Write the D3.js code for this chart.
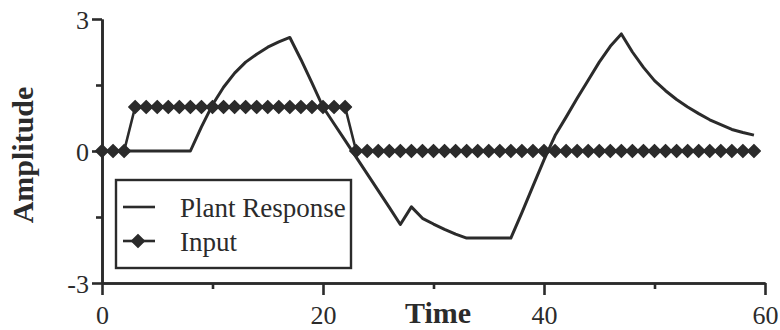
<!DOCTYPE html>
<html>
<head>
<meta charset="utf-8">
<script src="https://cdn.jsdelivr.net/npm/d3@7"></script>
<style>
  html, body { margin: 0; padding: 0; background: #fff; }
  svg { display: block; }
</style>
</head>
<body>
<svg id="chart" width="780" height="330"></svg>
<script>
const time = [0,1,2,3,4,5,6,7,8,9,10,11,12,13,14,15,16,17,18,19,20,21,22,23,24,25,26,27,28,29,
              30,31,32,33,34,35,36,37,38,39,40,41,42,43,44,45,46,47,48,49,50,51,52,53,54,55,56,57,58,59];
const plantResponse = [0,0,0,0,0,0,0,0,0,0.55,1.05,1.45,1.77,2.02,2.2,2.36,2.48,2.58,2.08,1.55,
                       1.0,0.62,0.24,-0.14,-0.52,-0.9,-1.28,-1.67,-1.27,-1.53,-1.66,-1.78,-1.89,-1.98,-1.98,-1.98,-1.98,-1.98,-1.4,-0.8,
                       -0.2,0.35,0.77,1.2,1.61,2.02,2.38,2.66,2.25,1.9,1.6,1.37,1.17,1.0,0.85,0.71,0.6,0.49,0.42,0.36];
const input = [0,0,0,1,1,1,1,1,1,1,1,1,1,1,1,1,1,1,1,1,1,1,1,0,0,0,0,0,0,0,
               0,0,0,0,0,0,0,0,0,0,0,0,0,0,0,0,0,0,0,0,0,0,0,0,0,0,0,0,0,0];
const xMajorTicks = [0,20,40,60];
const xMinorTicks = [10,30,50];
const yMajorTicks = [-3,0,3];
const yMinorTicks = [-1.5,1.5];
const seriesNames = ["Plant Response","Input"];
const xTitle = "Time";
const yTitle = "Amplitude";

const ink = "#2b2b2b";
const serif = "'Liberation Serif', 'Times New Roman', serif";
const svg = d3.select("#chart");

const x = d3.scaleLinear().domain([0,60]).range([102,765]);
const y = d3.scaleLinear().domain([-3,3]).range([283,19]);
const plainFormat = d => String(d);

function styleAxis(g){
  g.select(".domain").attr("stroke", ink).attr("stroke-width", 2.6);
  g.selectAll(".tick line").attr("stroke", ink).attr("stroke-width", 2.6);
  g.selectAll(".tick text").attr("fill", ink).attr("font-family", serif).attr("font-size", 26);
}

// X axis
svg.append("g").attr("transform", `translate(0,${y(-3)})`)
  .call(d3.axisBottom(x).tickValues(xMinorTicks).tickSize(6).tickSizeOuter(0).tickFormat(""))
  .call(styleAxis);
svg.append("g").attr("transform", `translate(0,${y(-3)})`)
  .call(d3.axisBottom(x).tickValues(xMajorTicks).tickSize(12).tickSizeOuter(0).tickPadding(5).tickFormat(plainFormat))
  .call(styleAxis)
  .call(g => g.selectAll(".tick text").attr("dy", "0.92em"));

// Y axis
svg.append("g").attr("transform", `translate(${x(0)},0)`)
  .call(d3.axisLeft(y).tickValues(yMinorTicks).tickSize(6).tickSizeOuter(0).tickFormat(""))
  .call(styleAxis);
svg.append("g").attr("transform", `translate(${x(0)},0)`)
  .call(d3.axisLeft(y).tickValues(yMajorTicks).tickSize(10).tickSizeOuter(0).tickPadding(3).tickFormat(plainFormat))
  .call(styleAxis)
  .call(g => g.selectAll(".tick text").attr("dy", "0.36em"));

// Axis titles
svg.append("text").attr("x", 438).attr("y", 323).attr("text-anchor", "middle")
  .attr("font-family", serif).attr("font-weight", "bold").attr("font-size", 30).attr("fill", ink)
  .text(xTitle);
svg.append("text").attr("transform", `translate(33,${(y(0)+4)}) rotate(-90)`).attr("text-anchor", "middle")
  .attr("font-family", serif).attr("font-weight", "bold").attr("font-size", 30).attr("fill", ink)
  .text(yTitle);

const diamond = "M0,-6.3L6.3,0L0,6.3L-6.3,0Z";

// Input series
const inputData = time.map((t,i) => ({t, v: input[i]}));
svg.append("path").datum(inputData)
  .attr("fill", "none").attr("stroke", ink).attr("stroke-width", 2.6)
  .attr("d", d3.line().x(d => x(d.t)).y(d => y(d.v)));
svg.append("g").selectAll("path").data(inputData).join("path")
  .attr("transform", d => `translate(${x(d.t)},${y(d.v)})`)
  .attr("d", diamond).attr("fill", ink).attr("stroke", ink).attr("stroke-width", 1.6)
  .attr("stroke-linejoin", "round");

// Plant response
const respData = time.map((t,i) => ({t, v: plantResponse[i]}));
svg.append("path").datum(respData)
  .attr("fill", "none").attr("stroke", ink).attr("stroke-width", 3).attr("stroke-linejoin", "round")
  .attr("d", d3.line().x(d => x(d.t)).y(d => y(d.v)));

// Legend
const lg = svg.append("g");
lg.append("rect").attr("x", 116).attr("y", 180).attr("width", 235).attr("height", 88)
  .attr("fill", "#fff").attr("stroke", ink).attr("stroke-width", 2.4);
const rows = [207, 241];
seriesNames.forEach((name, i) => {
  lg.append("line").attr("x1", 123).attr("x2", 155).attr("y1", rows[i]).attr("y2", rows[i])
    .attr("stroke", ink).attr("stroke-width", 2.6);
  if (i === 1) {
    lg.append("path").attr("transform", `translate(138,${rows[i]})`).attr("d", diamond)
      .attr("fill", ink).attr("stroke", ink).attr("stroke-width", 1.6).attr("stroke-linejoin", "round");
  }
  lg.append("text").attr("x", 180).attr("y", rows[i] + 9.5)
    .attr("font-family", serif).attr("font-size", 27).attr("fill", ink).text(name);
});
</script>
</body>
</html>
